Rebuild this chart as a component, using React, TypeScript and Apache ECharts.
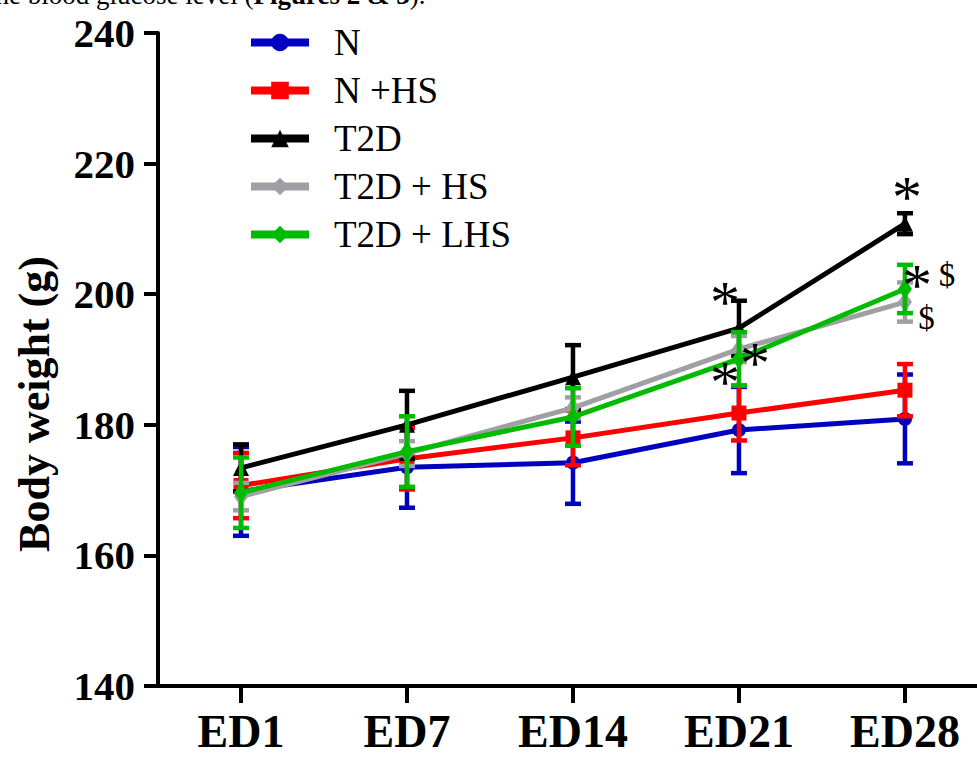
import React, { useEffect, useRef } from "react";
import * as echarts from "echarts";

const categories = ["ED1", "ED7", "ED14", "ED21", "ED28"];
const yTicks = [140, 160, 180, 200, 220, 240];

const seriesNames = ["N", "N +HS", "T2D", "T2D + HS", "T2D + LHS"];
const nMean = [169.8, 173.5, 174.2, 179.2, 180.9];
const nSd = [6.8, 6.2, 6.3, 6.6, 6.8];
const nhsMean = [170.7, 174.8, 178.0, 181.8, 185.3];
const nhsSd = [5.0, 4.7, 4.2, 4.2, 4.0];
const t2dMean = [173.4, 180.0, 187.3, 194.8, 210.8];
const t2dSd = [3.6, 5.2, 4.9, 4.2, 1.6];
const t2dhsMean = [169.0, 175.6, 182.6, 191.6, 198.8];
const t2dhsSd = [2.1, 1.9, 1.6, 2.0, 3.0];
const t2dlhsMean = [169.6, 175.9, 181.2, 190.1, 200.8];
const t2dlhsSd = [5.4, 5.4, 4.4, 4.1, 3.7];

// significance marks: [x position (category index units), y value, text]
const markX = [2.916, 3.096, 2.916, 4.012, 4.072, 4.253, 4.13];
const markY = [200.3, 191.0, 188.1, 216.4, 202.9, 202.9, 196.4];
const markText = ["*", "*", "*", "*", "*", "$", "$"];

const yTitle = "Body weight (g)";

const colors = ["#0000c0", "#ff0000", "#000000", "#a0a0a4", "#00bb00"];
const symbols = ["circle", "rect", "triangle", "diamond", "diamond"];
const symbolSizes: any[] = [14, 15, 16, [14, 20], [14, 20]];
const means = [nMean, nhsMean, t2dMean, t2dhsMean, t2dlhsMean];
const sds = [nSd, nhsSd, t2dSd, t2dhsSd, t2dlhsSd];

const SERIF = "'Liberation Serif', 'Times New Roman', serif";

export default function App() {
  const ref = useRef<HTMLDivElement>(null);
  useEffect(() => {
    if (!ref.current) return;
    const chart = echarts.init(ref.current, undefined, { renderer: "svg" });
    const series: any[] = [];
    seriesNames.forEach((name, k) => {
      const color = colors[k];
      series.push({
        type: "custom",
        name: name + " SEM",
        encode: { x: 0, y: 1 },
        data: means[k].map((m, i) => [i, m, sds[k][i]]),
        z: 2 + k * 2,
        renderItem: (params: any, api: any) => {
          const x = api.value(0);
          const m = api.value(1);
          const s = api.value(2);
          const top = api.coord([x, m + s]);
          const bot = api.coord([x, m - s]);
          const cw = 8;
          const st = { stroke: color, lineWidth: 4.5 };
          return {
            type: "group",
            children: [
              { type: "line", shape: { x1: top[0], y1: top[1], x2: bot[0], y2: bot[1] }, style: st },
              { type: "line", shape: { x1: top[0] - cw, y1: top[1], x2: top[0] + cw, y2: top[1] }, style: st },
              { type: "line", shape: { x1: bot[0] - cw, y1: bot[1], x2: bot[0] + cw, y2: bot[1] }, style: st },
            ],
          };
        },
      });
      series.push({
        type: "line",
        name,
        data: means[k].map((m, i) => [i, m]),
        symbol: symbols[k],
        symbolSize: symbolSizes[k],
        showAllSymbol: true,
        z: 3 + k * 2,
        lineStyle: { color, width: 5 },
        itemStyle: { color },
      });
    });
    series.push({
      type: "scatter",
      name: "marks",
      symbolSize: 1,
      z: 20,
      itemStyle: { color: "rgba(0,0,0,0)", opacity: 1 },
      data: markX.map((x, i) => ({
        value: [x, markY[i]],
        name: markText[i],
        label:
          markText[i] === "*"
            ? { fontSize: 60, lineHeight: 28, offset: [0, 10] }
            : { fontSize: 33, lineHeight: 30 },
      })),
      label: {
        show: true,
        position: "inside",
        formatter: "{b}",
        color: "#000000",
        opacity: 1,
        fontFamily: SERIF,
      },
    });

    chart.setOption({
      animation: false,
      backgroundColor: "#ffffff",
      grid: { left: 158, right: 0, top: 33, bottom: 76, containLabel: false },
      legend: {
        data: seriesNames,
        orient: "vertical",
        left: 242,
        top: 19,
        itemWidth: 58,
        itemHeight: 22,
        itemGap: 11,
        textStyle: {
          fontFamily: SERIF,
          fontSize: 37,
          color: "#000",
          padding: [0, 0, 0, 20],
        },
        lineStyle: { width: 8 },
      },
      xAxis: {
        type: "value",
        min: -0.5,
        max: 4.434,
        axisLine: { onZero: false, lineStyle: { color: "#000", width: 4 } },
        axisTick: { customValues: [0, 1, 2, 3, 4], length: 17, lineStyle: { color: "#000", width: 4 } },
        axisLabel: {
          customValues: [0, 1, 2, 3, 4],
          formatter: (v: number) => categories[Math.round(v)] ?? "",
          fontFamily: SERIF,
          fontWeight: "bold",
          fontSize: 46,
          color: "#000",
          margin: 22,
        },
        splitLine: { show: false },
      },
      yAxis: {
        type: "value",
        min: yTicks[0],
        max: yTicks[yTicks.length - 1],
        interval: 20,
        axisLine: { show: true, onZero: false, lineStyle: { color: "#000", width: 4 } },
        axisTick: { show: true, length: 14, lineStyle: { color: "#000", width: 4 } },
        axisLabel: {
          fontFamily: SERIF,
          fontWeight: "bold",
          fontSize: 41,
          color: "#000",
          margin: 23,
        },
        splitLine: { show: false },
      },
      graphic: [
        {
          type: "text",
          x: 34,
          y: 404,
          rotation: Math.PI / 2,
          style: {
            text: yTitle,
            fontFamily: SERIF,
            fontWeight: "bold",
            fontSize: 44,
            fill: "#000",
            align: "center",
            verticalAlign: "middle",
          },
        },
        {
          type: "text",
          x: -12,
          y: 8,
          style: {
            text: "{r|the blood glucose level (}{b|Figures 2 & 3}{r|).}",
            rich: {
              r: { fontFamily: SERIF, fontSize: 27, fill: "#000" },
              b: { fontFamily: SERIF, fontSize: 27, fontWeight: "bold", fill: "#000" },
            },
            verticalAlign: "bottom",
            align: "left",
          },
        },
      ],
      series,
    });
    return () => chart.dispose();
  }, []);
  return (
    <div
      ref={ref}
      style={{ position: "fixed", left: 0, top: 0, width: 977, height: 762, background: "#fff" }}
    />
  );
}
